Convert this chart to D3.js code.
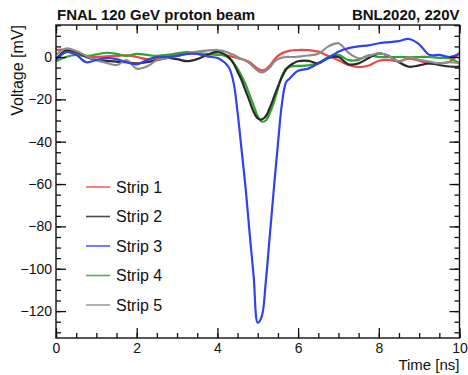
<!DOCTYPE html>
<html>
<head>
<meta charset="utf-8">
<script src="https://cdn.jsdelivr.net/npm/d3@7"></script>
<style>
  body { margin: 0; background: #fff; }
  text { font-family: "Liberation Sans", Arial, Helvetica, sans-serif; fill: #111; }
</style>
</head>
<body>
<div id="chart"></div>
<script>
// sample times [ns]: coarse on the baseline, finer through the pulse
const times = [
  0, 0.25, 0.5, 0.75, 1, 1.25, 1.5, 1.75, 2, 2.25, 2.5, 2.75, 3, 3.25, 3.5, 3.75, 4,
  4.1, 4.2, 4.3, 4.4, 4.5, 4.6, 4.7, 4.8, 4.9, 5.0, 5.1, 5.2, 5.3, 5.4, 5.5, 5.6, 5.7, 5.8, 5.9, 6.0,
  6.25, 6.5, 6.75, 7, 7.25, 7.5, 7.75, 8, 8.25, 8.5, 8.75, 9, 9.25, 9.5, 9.75, 10
];

// voltages [mV]
const strip1 = [
  3.3, 3.3, 1.7, 0.3, 0, 0.3, 0.5, 0.8, 0, -1, -0.5, 0.3, 1, 1.5, 1.5, 1.2, 1,
  1, 0.8, 0.5, 0, -0.5, -1, -1.6, -2.5, -4, -5.5, -6.3, -5.8, -4, -1.5, 0.5, 1.8, 2.5, 3, 3.2, 3.3,
  3.2, 2.5, 0.5, -1.5, -3.8, -4.8, -4, -1.8, -1.4, -2, -0.8, -1.8, -3, -3, -2.2, 2
];
const strip2 = [
  -1, 3, 2.5, 0, -1.4, -1.8, -2.2, -2.5, -3, -2.5, -1.5, -0.5, -1, -2, -1, 1, 2.5,
  2, 1, -0.5, -3, -7, -11, -16, -21, -26, -29, -29.5, -28, -24, -19, -14, -9.5, -6, -4, -2.8, -2,
  -1.8, -3, -0.5, 0, -3.5, -3, -0.5, 1.7, 0.5, -2.5, -4.6, -4, -3, -3.8, -4.5, -4.6
];
const strip3 = [
  -1.4, 2.3, 1, -2.5, -1.4, -0.5, -1, -2.5, -3.5, -1.5, 0, 0, 0.5, 1.5, 1.5, 0.3, -0.5,
  -1.5, -3, -5.5, -12, -26, -44, -62, -83.5, -104, -125.5, -122.5, -106, -84, -62, -41, -22, -12, -10, -8, -6.5,
  -5.5, -3, -0.5, 2.5, 4.2, 5, 5.5, 6.5, 7, 7.5, 8.5, 6, 1, 1, 0, 1.5
];
const strip4 = [
  -2, 0, 1, 0.5, 1.2, 2, 1.5, 0.5, 1.5, 1, 0.5, 1, 1.7, 2.3, 1.8, 1.5, 1.2,
  1, 0.5, -0.8, -2.8, -5.5, -9, -13, -18, -23, -28, -30.5, -30, -26.5, -21.5, -15, -9, -5.5, -4.6, -4.3, -4.2,
  -4, -2.9, 0, 1, -1.5, -1.4, 0.8, 0, 0, 0, 0, 0, 0, -0.4, -0.6, -3
];
const strip5 = [
  1, 4, 2.8, 0.5, -1.5, -2.8, -3.8, -1.5, -5.5, -4.5, -1.5, -0.5, 0.5, 1.5, 2.5, 3, 3.3,
  3, 2.5, 1.8, 1, 0, -1, -1.8, -3, -4.8, -6.5, -7.3, -6.5, -5, -2.5, -1, -0.3, 0, 0, 0, 0.2,
  0.7, 1.5, 5, 6.5, 2, -0.6, 0.5, 1.7, 0.5, -2.2, 0, -1.4, -2.2, -3, -2.5, -3
];

const seriesNames = ['Strip 1', 'Strip 2', 'Strip 3', 'Strip 4', 'Strip 5'];
const seriesValues = [strip1, strip2, strip3, strip4, strip5];
const seriesColors = ['#f04646', '#2a2a2a', '#3240f0', '#2fa52f', '#8c8c8c'];
const drawOrder = [0, 3, 1, 4, 2];

const xTicks = [0, 2, 4, 6, 8, 10];
const yTicks = [-120, -100, -80, -60, -40, -20, 0];

const config = {
  width: 468, height: 375,
  left: 56, right: 459.5, top: 25, bottom: 338
};

const svg = d3.select('#chart').append('svg')
    .attr('width', config.width)
    .attr('height', config.height);

const x = d3.scaleLinear().domain([0, 10]).range([config.left, config.right]);
const y = d3.scaleLinear().domain([-132.7, 15.1]).range([config.bottom, config.top]);

svg.append('clipPath').attr('id', 'plot-clip')
  .append('rect')
    .attr('x', config.left).attr('y', config.top)
    .attr('width', config.right - config.left)
    .attr('height', config.bottom - config.top);

// curves
const line = d3.line()
    .x((d, i) => x(times[i]))
    .y(d => y(d))
    .curve(d3.curveCatmullRom.alpha(0.5));

const curves = svg.append('g').attr('clip-path', 'url(#plot-clip)');
drawOrder.forEach(k => {
  curves.append('path')
      .datum(seriesValues[k])
      .attr('fill', 'none')
      .attr('stroke', seriesColors[k])
      .attr('stroke-width', 2.2)
      .attr('stroke-linejoin', 'round')
      .attr('d', line);
});

// ROOT-style frame with ticks on all four sides, pointing inward
const frame = svg.append('g');
const majorLen = 10, minorLen = 5;

frame.append('g')
    .attr('transform', `translate(0,${config.bottom})`)
    .call(d3.axisBottom(x).tickValues(d3.range(0, 10.01, 0.5)).tickSize(-minorLen).tickFormat(''))
    .call(g => g.select('.domain').remove());
frame.append('g')
    .attr('transform', `translate(0,${config.bottom})`)
    .call(d3.axisBottom(x).tickValues(xTicks).tickSize(-majorLen).tickPadding(5).tickFormat(d3.format('d')))
    .call(g => g.select('.domain').remove())
    .call(g => g.selectAll('text').attr('font-size', 14).attr('font-family', null));

frame.append('g')
    .attr('transform', `translate(0,${config.top})`)
    .call(d3.axisTop(x).tickValues(d3.range(0, 10.01, 0.5)).tickSize(-minorLen).tickFormat(''))
    .call(g => g.select('.domain').remove());
frame.append('g')
    .attr('transform', `translate(0,${config.top})`)
    .call(d3.axisTop(x).tickValues(xTicks).tickSize(-majorLen * 0.85).tickFormat(''))
    .call(g => g.select('.domain').remove());

frame.append('g')
    .attr('transform', `translate(${config.left},0)`)
    .call(d3.axisLeft(y).tickValues(d3.range(-130, 15.1, 5)).tickSize(-minorLen).tickFormat(''))
    .call(g => g.select('.domain').remove());
frame.append('g')
    .attr('transform', `translate(${config.left},0)`)
    .call(d3.axisLeft(y).tickValues(yTicks).tickSize(-majorLen).tickPadding(4).tickFormat(d3.format('d')))
    .call(g => g.select('.domain').remove())
    .call(g => g.selectAll('text').attr('font-size', 14).attr('font-family', null));

frame.append('g')
    .attr('transform', `translate(${config.right},0)`)
    .call(d3.axisRight(y).tickValues(d3.range(-130, 15.1, 5)).tickSize(-minorLen).tickFormat(''))
    .call(g => g.select('.domain').remove());
frame.append('g')
    .attr('transform', `translate(${config.right},0)`)
    .call(d3.axisRight(y).tickValues(yTicks).tickSize(-majorLen).tickFormat(''))
    .call(g => g.select('.domain').remove());

frame.selectAll('.tick line').attr('stroke', '#111').attr('stroke-width', 1.3);

frame.append('rect')
    .attr('x', config.left).attr('y', config.top)
    .attr('width', config.right - config.left)
    .attr('height', config.bottom - config.top)
    .attr('fill', 'none')
    .attr('stroke', '#111')
    .attr('stroke-width', 1.4);

// titles
svg.append('text')
    .attr('x', 57).attr('y', 20)
    .attr('font-size', 15).attr('font-weight', 'bold')
    .text('FNAL 120 GeV proton beam');
svg.append('text')
    .attr('x', config.right).attr('y', 20)
    .attr('text-anchor', 'end')
    .attr('font-size', 15).attr('font-weight', 'bold')
    .text('BNL2020, 220V');

svg.append('text')
    .attr('x', config.right).attr('y', 370)
    .attr('text-anchor', 'end')
    .attr('font-size', 15)
    .text('Time [ns]');
svg.append('text')
    .attr('transform', `translate(23,${config.top}) rotate(-90)`)
    .attr('text-anchor', 'end')
    .attr('font-size', 16)
    .text('Voltage [mV]');

// legend
const legend = svg.append('g').attr('transform', 'translate(86,187)');
const legendItems = legend.selectAll('g')
    .data(seriesNames)
  .join('g')
    .attr('transform', (d, i) => `translate(0,${i * 29.5})`);
legendItems.append('line')
    .attr('x1', 0).attr('x2', 24)
    .attr('stroke', (d, i) => seriesColors[i])
    .attr('stroke-opacity', 0.85)
    .attr('stroke-width', 1.6);
legendItems.append('text')
    .attr('x', 30).attr('dy', '0.36em')
    .attr('font-size', 16)
    .text(d => d);
</script>
</body>
</html>
